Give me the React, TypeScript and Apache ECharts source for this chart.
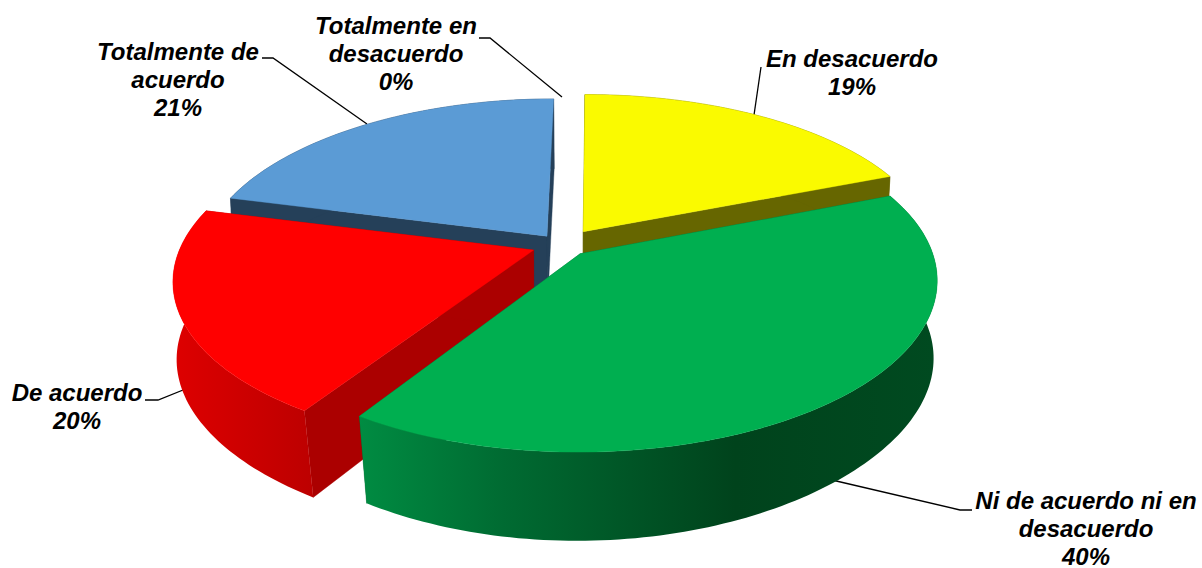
import React, { useEffect, useRef } from "react";
import * as echarts from "echarts";

const categories = ["Totalmente en desacuerdo", "En desacuerdo", "Ni de acuerdo ni en desacuerdo", "De acuerdo", "Totalmente de acuerdo"];
const percents = [0, 19, 40, 20, 21];
const topColors = ["#4F81BD", "#FAFA00", "#00AF50", "#FF0000", "#5B9BD5"];
const radialColors = ["#254061", "#666600", "#00682F", "#AB0000", "#254059"];
const drawOrder = [4, 1, 3, 2];
const labelLines = [
  ["Totalmente en", "desacuerdo"],
  ["En desacuerdo"],
  ["Ni de acuerdo ni en", "desacuerdo"],
  ["De acuerdo"],
  ["Totalmente de", "acuerdo"],
];
const labelAnchors = [[396, 25], [852, 58], [1086, 500], [77, 392], [178, 51]];
const leaders = [
  [[479, 38], [490, 38], [562, 97]],
  [[761, 67], [754, 115]],
  [[832, 480], [960, 510], [972, 510]],
  [[145, 400], [158, 400], [188, 388]],
  [[262, 58], [273, 58], [367, 124]],
];

// projection of the tilted pie
const CX = 562, CY = 243, A = 356, B = 162.6, PERSP = 0.161, DROP = 0.022, H = 80, EXPLODE = 0.085, SHEAR = -0.03;
// slice-wise fine placement of the exploded wedges
const nudgeX = [0, 4, -1, 0, 3];
const nudgeY = [0, 0, 0, 2, 4];
const widthScale = [1, 0.99, 0.98, 0.99, 0.97];

const project = (x: number, y: number, z: number, i: number) => {
  const s = 1 / (1 + PERSP * y + DROP * z);
  const sx = 1 / (1 + PERSP * y + z * (0.008 + 0.03 * y * y));
  const yTop = CY - (B * y) / (1 + PERSP * y);
  return [CX + A * x * sx + SHEAR * (yTop - CY) + nudgeX[i], CY - B * y * s + H * z * s + nudgeY[i]];
};

const cumulative: number[] = [];
percents.reduce((sum, p, i) => { cumulative[i] = sum; return sum + p; }, 0);

const rim = (i: number, z: number) => {
  const a0 = (cumulative[i] / 100) * 2 * Math.PI;
  const a1 = ((cumulative[i] + percents[i]) / 100) * 2 * Math.PI;
  const mid = (a0 + a1) / 2;
  const ox = EXPLODE * Math.sin(mid), oy = EXPLODE * Math.cos(mid);
  const n = Math.max(2, Math.round(percents[i] * 3));
  const pts: number[][] = [];
  for (let k = 0; k <= n; k++) {
    const a = a0 + ((a1 - a0) * k) / n;
    pts.push(project(ox + widthScale[i] * Math.sin(a), oy + Math.cos(a), z, i));
  }
  return { pts, apex: project(ox, oy, z, i) };
};

const wallFill = (i: number) => {
  if (i === 2)
    return new echarts.graphic.LinearGradient(358, 0, 938, 0, [
      { offset: 0, color: "#008C42" },
      { offset: 0.25, color: "#006B32" },
      { offset: 0.65, color: "#00431C" },
      { offset: 1, color: "#004A20" },
    ], true);
  if (i === 3)
    return new echarts.graphic.LinearGradient(172, 0, 315, 0, [
      { offset: 0, color: "#DE0000" },
      { offset: 1, color: "#BC0000" },
    ], true);
  return radialColors[i];
};

const renderItem = (params: any) => {
  const i = drawOrder[params.dataIndex];
  const top = rim(i, 0);
  const bottom = rim(i, 1);
  const last = top.pts.length - 1;
  const poly = (points: number[][], fill: any) => ({
    type: "polygon",
    shape: { points },
    style: { fill, stroke: typeof fill === "string" ? fill : undefined, lineWidth: 0.4 },
  });
  return {
    type: "group",
    children: [
      poly([top.apex, top.pts[0], bottom.pts[0], bottom.apex], radialColors[i]),
      poly([top.apex, top.pts[last], bottom.pts[last], bottom.apex], radialColors[i]),
      poly([...top.pts, ...[...bottom.pts].reverse()], wallFill(i)),
      poly([top.apex, ...top.pts], topColors[i]),
    ],
  };
};

const FONT = '"Liberation Sans", Arial, sans-serif';
const LINE = 28;

export default function App() {
  const ref = useRef<HTMLDivElement>(null);
  useEffect(() => {
    document.body.style.margin = "0";
    const chart = echarts.init(ref.current!, undefined, { renderer: "svg" });
    const graphics: any[] = [];
    leaders.forEach((points) => {
      graphics.push({
        type: "polyline",
        shape: { points },
        style: { stroke: "#000", lineWidth: 1.3, fill: "none" },
        silent: true,
      });
    });
    labelLines.forEach((lines, i) => {
      const [x, y] = labelAnchors[i];
      [...lines, `${percents[i]}%`].forEach((text, k) => {
        graphics.push({
          type: "text",
          x,
          y: y + k * LINE,
          silent: true,
          style: {
            text,
            fill: "#000",
            font: `italic bold 24px ${FONT}`,
            align: "center",
            verticalAlign: "middle",
          },
        });
      });
    });
    chart.setOption({
      animation: false,
      backgroundColor: "#fff",
      graphic: graphics,
      series: [
        {
          type: "custom",
          coordinateSystem: "none",
          silent: true,
          renderItem,
          data: drawOrder.map((i) => ({ name: categories[i], value: percents[i] })),
        },
      ],
    });
    return () => chart.dispose();
  }, []);
  return <div ref={ref} style={{ width: 1202, height: 568 }} />;
}
